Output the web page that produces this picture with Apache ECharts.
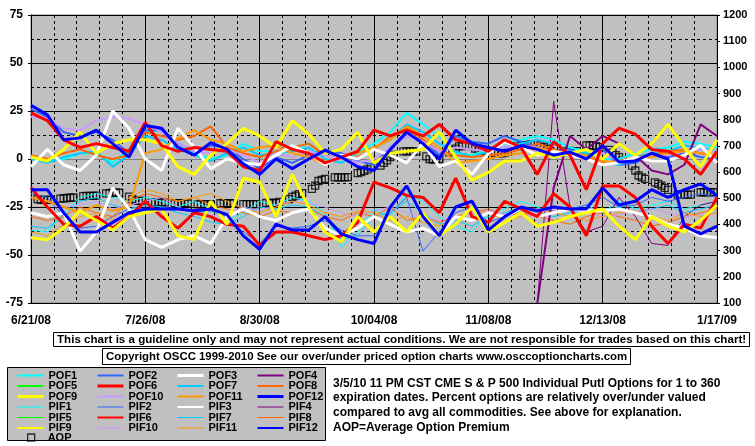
<!DOCTYPE html>
<html><head><meta charset="utf-8">
<script src="https://cdn.jsdelivr.net/npm/echarts@6/dist/echarts.min.js"></script>
<style>html,body{margin:0;padding:0;background:#fff}#c{width:755px;height:446px}</style>
</head><body><div id="c"></div>
<script>
// x-axis tick labels (every 35 days from 6/21/08)
const tickLabels = ['6/21/08','7/26/08','8/30/08','10/04/08','11/08/08','12/13/08','1/17/09'];
// sample days (days since 6/21/08)
const days = [0,5,10,15,20,25,30,35,40,45,50,55,60,65,70,75,80,85,90,95,100,105,110,115,120,125,130,135,140,145,150,155,160,165,170,175,180,185,190,195,200,205,210];
const N = null;
const POF1 = [0,-1,0,3,3,-2,5,14,15,8,3,0,2,8,4,4,5,8,2,0,4,8,14,24,18,12,3,2,5,8,10,12,10,6,4,0,0,3,5,6,9,8,6];
const POF2 = [26,22,14,12,14,10,3,15,15,8,4,7,6,0,-5,1,-2,2,5,3,-1,-3,6,12,10,2,12,9,8,12,9,6,4,5,2,5,-3,-2,2,1,3,1,0];
const POF3 = [-4,5,-3,-6,2,25,16,0,-6,16,6,-5,0,-2,-3,2,7,3,-3,2,0,5,2,-2,8,-4,-1,-8,3,9,6,2,4,2,0,-3,-2,1,-1,-1,2,7,-2];
const POF4 = [N,N,N,N,N,N,N,N,N,N,N,N,N,N,N,N,N,N,N,N,N,N,N,N,N,N,N,N,N,N,N,-75,-15,12,5,12,8,2,-6,-8,-3,18,12];
const POF5 = [N,N,N,N,N,N,N,N,N,N,N,N,N,N,N,N,N,N,N,N,N,N,N,N,N,N,N,N,N,N,N,N,N,N,N,N,N,N,N,N,N,N,N];
const POF6 = [24,20,10,6,8,6,4,19,7,4,6,5,4,-4,-6,9,5,3,-2,1,4,15,12,15,12,18,10,8,4,10,6,-8,9,2,-16,8,16,13,5,4,0,-8,4];
const POF7 = [0,-2,1,3,4,-4,2,12,10,5,2,-1,3,6,2,3,4,6,0,-2,3,6,10,18,14,8,4,1,4,6,8,10,8,4,3,-2,-3,1,3,4,7,6,4];
const POF8 = [2,0,3,5,2,0,2,14,12,10,12,17,6,3,1,4,6,8,2,0,1,5,12,16,10,4,2,1,2,3,5,8,5,2,1,-2,-1,1,2,4,5,3,1];
const POF9 = [1,-1,5,14,3,8,10,10,8,-4,-8,2,8,16,12,6,20,13,3,5,14,-2,3,4,5,14,1,-11,-7,-1,-1,3,1,3,5,0,8,2,8,18,6,-4,10];
const POF10 = [22,21,16,15,20,22,21,18,14,8,4,3,5,2,-2,3,1,4,2,0,-2,0,6,12,9,4,6,5,4,6,7,6,3,4,1,3,-1,0,2,2,4,5,4];
const POF11 = [-20,-22,-25,-28,-24,-27,-25,3,5,11,15,10,8,4,6,7,3,1,-3,2,3,6,10,17,12,6,-2,-1,0,2,3,6,4,3,2,-1,-2,0,1,3,4,3,2];
const POF12 = [28,23,10,11,15,8,1,17.5,16,6,2,8.5,5,-2.5,-8,0,-5,0,4.5,1,-4,-6,5,14,8,0,15,8,6,4,7,5,2,3.6,0,7,-1.5,-1,3,0,-35,-39,-35];
const PIF1 = [-37,-38,-28,-20,-18,-20,-22,-20,-22,-25,-22,-26,-32,-28,-22,-24,-20,-22,-28,-46,-38,-26,-30,-18,-22,-30,-35,-38,-28,-26,-22,-25,-28,-26,-24,-28,-22,-26,-24,-22,-26,-24,-22];
const PIF2 = [-18,-20,-30,-36,-35,-30,-26,-24,-25,-26,-28,-27,-30,-38,-44,-35,-36,-35,-32,-37,-40,-40,-28,-20,-48,-38,-28,-25,-33,-30,-27,-26,-27,-26,-24,-20,-25,-24,-20,-22,-20,-18,-20];
const PIF3 = [-28,-30,-28,-48,-38,-15,-26,-42,-46,-42,-40,-44,-30,-26,-30,-32,-28,-26,-36,-40,-36,-30,-34,-38,-36,-40,-30,-32,-28,-30,-26,-30,-28,-26,-27,-27,-26,-28,-30,-34,-36,-40,-41];
const PIF4 = [N,N,N,N,N,N,N,N,N,N,N,N,N,N,N,N,N,N,N,N,N,N,N,N,N,N,N,N,N,N,N,-75,30,-25,-38,-35,-20,-30,-44,-45,-30,-24,-22];
const PIF5 = [N,N,N,N,N,N,N,N,N,N,N,N,N,N,N,N,N,N,N,N,N,N,N,N,N,N,N,N,N,N,N,N,N,N,N,N,N,N,N,N,N,N,N];
const PIF6 = [-15,-25,-34,-35,-30,-36,-30,-22,-30,-36,-28,-30,-34,-35,-45,-38,-38,-40,-42,-40,-33,-12,-15,-19,-20,-28,-10,-30,-33,-22,-26,-30,-18,-25,-40,-14,-14,-20,-35,-44,-34,-36,-20];
const PIF7 = [-35,-36,-30,-22,-20,-24,-26,-24,-25,-28,-30,-33,-34,-30,-25,-26,-24,-25,-30,-42,-40,-30,-28,-22,-28,-34,-32,-35,-30,-28,-25,-28,-30,-28,-26,-27,-25,-28,-26,-24,-28,-26,-24];
const PIF8 = [-30,-32,-30,-25,-28,-30,-22,-18,-20,-22,-20,-24,-26,-28,-30,-27,-28,-26,-30,-32,-28,-30,-25,-32,-30,-33,-30,-28,-26,-30,-28,-30,-32,-34,-30,-28,-30,-32,-35,-33,-30,-28,-26];
const PIF9 = [-41,-42,-36,-27,-32,-37,-30,-28,-26,-40,-42,-22,-34,-10,-12,-30,-8,-25,-38,-43,-30,-38,-30,-38,-28,-40,-34,-25,-38,-33,-28,-35,-33,-30,-28,-26,-35,-42,-30,-35,-38,-32,-24];
const PIF10 = [-20,-22,-25,-24,-22,-26,-24,-22,-20,-25,-28,-30,-28,-25,-27,-24,-22,-23,-25,-28,-30,-27,-25,-28,-30,-32,-30,-28,-27,-29,-30,-28,-27,-26,-28,-30,-29,-27,-26,-28,-30,-29,-28];
const PIF11 = [-38,-40,-34,-30,-28,-32,-20,-16,-18,-22,-20,-18,-22,-26,-28,-25,-22,-24,-28,-30,-27,-28,-32,-30,-33,-35,-30,-27,-28,-32,-30,-26,-28,-30,-32,-30,-28,-27,-30,-32,-28,-30,-28];
const PIF12 = [-16,-16,-28,-38,-38,-33,-28,-26,-26,-26,-27,-26,-29,-40,-47,-34,-37,-37,-30,-39,-42,-44,-25,-14,-30,-40,-25,-22,-37,-30,-25,-27,-25,-26,-26,-15,-24,-22,-16,-20,-16,-13,-19];
// Average option premium, one value per trading day (right axis)
const AOP = [
497,494,494,494,494, 499,500,501,502,503, 508,509,509,509,510, 519,520,521,521,521,
506,497,491,490,490, 484,484,484,484,484, 481,481,481,481,480, 477,477,478,478,478,
481,481,481,481,481, 478,478,478,478,478, 482,482,482,482,486, 497,505,510,516,520,
536,548,566,570,574, 580,580,580,580,581, 596,600,605,610,619, 625,635,645,657,666,
679,679,680,679,678, 660,650,648,650,650, 675,683,690,698,699, 699,690,683,683,680,
672,672,672,674,680, 702,702,703,703,706, 702,695,689,680,672, 680,680,681,680,680,
702,702,702,699,695, 685,674,665,657,644, 625,606,587,580,574, 561,555,548,540,532,
514,514,514,514,514, 523,523,524,523,523];
const descLines = [
'3/5/10 11 PM CST CME S & P 500 Individual Putl Options for 1 to 360',
'expiration dates. Percent options are relatively over/under valued',
'compared to avg all commodities. See above for explanation.',
'AOP=Average Option Premium'];

// trading days (Mon-Fri) of the calendar; 6/21/08 was a Saturday
const tradingDays = [];
for (let d = 0; d <= 210; d++) { const dow = (6 + d) % 7; if (dow >= 1 && dow <= 5) tradingDays.push(d); }

const defs = [
  ['PIF1','#00FFFF',1,1,PIF1],['PIF2','#3366FF',1,1,PIF2],['PIF4','#800080',1,1,PIF4],['PIF5','#00FF00',1,1,PIF5],
  ['PIF7','#00CCFF',1,1,PIF7],['PIF8','#FF6600',1,1,PIF8],['PIF10','#CC99FF',1,1,PIF10],['PIF11','#FF9900',1,1,PIF11],
  ['POF1','#00FFFF',2,2,POF1],['POF2','#3366FF',2,2,POF2],['POF5','#00FF00',2,2,POF5],['POF7','#00CCFF',2,2,POF7],
  ['POF8','#FF6600',2,2,POF8],['POF10','#CC99FF',2,2,POF10],['POF11','#FF9900',2,2,POF11],['POF4','#800080',2,2,POF4],
  ['PIF3','#FFFFFF',3,2,PIF3],['PIF6','#FF0000',3,2,PIF6],['PIF9','#FFFF00',3,2,PIF9],['PIF12','#0000FF',3,2,PIF12],
  ['POF3','#FFFFFF',3,3,POF3],['POF9','#FFFF00',3,3,POF9],['POF6','#FF0000',3,3,POF6],['POF12','#0000FF',3,3,POF12]
];
const legendW = {}; defs.forEach(d => legendW[d[0]] = d[3]);

const series = defs.map(d => ({
  name: d[0], type: 'line', xAxisIndex: 0, yAxisIndex: 0, symbol: 'none', showSymbol: false,
  color: d[1], lineStyle: { color: d[1], width: d[2] }, data: days.map((x, i) => [x, d[4][i]]),
  connectNulls: false, animation: false, silent: true
}));
series.push({
  name: 'AOP', type: 'scatter', yAxisIndex: 1, symbol: 'rect', symbolSize: 7,
  itemStyle: { color: 'rgba(0,0,0,0)', borderColor: '#000', borderWidth: 1.3 },
  data: tradingDays.map((x, i) => [x, AOP[i]]), animation: false, silent: true
});

const cols = [
  ['POF1','POF5','POF9','PIF1','PIF5','PIF9'],
  ['POF2','POF6','POF10','PIF2','PIF6','PIF10'],
  ['POF3','POF7','POF11','PIF3','PIF7','PIF11'],
  ['POF4','POF8','POF12','PIF4','PIF8','PIF12']
];
const colLeft = [16, 96, 176, 256];
const lblFont = { fontFamily: 'Liberation Sans, Arial, sans-serif', fontWeight: 'bold', fontSize: 11, color: '#000' };
const legends = cols.map((c, k) => ({
  orient: 'vertical', left: colLeft[k], top: 370, padding: 0, itemGap: -0.5,
  itemWidth: 26, itemHeight: 10, selectedMode: false,
  textStyle: Object.assign({ lineHeight: 10 }, lblFont),
  data: c.map(n => ({ name: n, lineStyle: { width: legendW[n] }, itemStyle: { opacity: 0 } }))
}));
legends.push({
  orient: 'vertical', left: 27, top: 432, padding: 0, itemWidth: 7, itemHeight: 7, selectedMode: false,
  textStyle: Object.assign({ lineHeight: 10, padding: [0, 0, 0, 8] }, lblFont),
  data: [{ name: 'AOP', icon: 'rect', itemStyle: { color: 'rgba(0,0,0,0)', borderColor: '#000', borderWidth: 1.3 } }]
});

const titleFont = Object.assign({}, lblFont, { fontSize: 11.6, lineHeight: 13 });
const chart = echarts.init(document.getElementById('c'), null, { renderer: 'canvas' });
chart.setOption({
  animation: false,
  backgroundColor: '#fff',
  title: [
    { text: 'This chart is a guideline only and may not represent actual conditions. We are not responsible for trades based on this chart!',
      left: 53, top: 332, padding: [1, 4, 1, 4], borderWidth: 1, borderColor: '#000', textStyle: titleFont },
    { text: 'Copyright OSCC 1999-2010 See our over/under priced option charts www.osccoptioncharts.com',
      left: 102, top: 348, padding: [2, 4, 2, 4], borderWidth: 1, borderColor: '#000',
      textStyle: Object.assign({}, titleFont, { fontSize: 11.4 }) },
    { text: descLines.join('\n'), left: 333, top: 376, padding: 0,
      textStyle: Object.assign({}, lblFont, { fontSize: 12, lineHeight: 14.7 }) }
  ],
  graphic: [{ type: 'rect', z: -1, shape: { x: 7.5, y: 367.5, width: 318, height: 73 },
    style: { fill: '#C0C0C0', stroke: '#000', lineWidth: 1 } }],
  legend: legends,
  grid: { left: 31, top: 15, width: 686, height: 288, show: true, backgroundColor: '#C0C0C0', borderColor: '#808080', borderWidth: 1 },
  xAxis: {
    type: 'value', min: 0, max: 210, interval: 35,
    axisLine: { show: true, lineStyle: { color: '#808080', width: 1 } },
    axisTick: { show: false },
    axisLabel: { margin: 12, fontFamily: 'Liberation Sans Narrow, Liberation Sans, Arial', fontWeight: 'bold', fontSize: 12, color: '#000',
      formatter: v => tickLabels[Math.round(v / 35)] },
    splitLine: { show: true, lineStyle: { color: '#000', width: 1 } },
    minorTick: { show: false, splitNumber: 5 },
    minorSplitLine: { show: true, lineStyle: { color: '#000', width: 1, type: [3, 3] } }
  },
  yAxis: [
    { type: 'value', min: -75, max: 75, interval: 25, position: 'left',
      axisLine: { show: true, lineStyle: { color: '#000', width: 1 } },
      axisTick: { show: true, length: 3, inside: false, lineStyle: { color: '#000' } },
      axisLabel: { margin: 8, fontFamily: 'Liberation Sans Narrow, Liberation Sans, Arial', fontWeight: 'bold', fontSize: 12, color: '#000' },
      splitLine: { show: true, lineStyle: { color: '#000', width: 1 } },
      minorTick: { show: false, splitNumber: 2 },
      minorSplitLine: { show: true, lineStyle: { color: '#000', width: 1, type: [3, 3] } } },
    { type: 'value', min: 100, max: 1200, interval: 100, position: 'right',
      axisLine: { show: true, lineStyle: { color: '#000', width: 1 } },
      axisTick: { show: true, length: 3, inside: false, lineStyle: { color: '#000' } },
      axisLabel: Object.assign({ margin: 6, formatter: v => String(v) }, lblFont),
      splitLine: { show: false } }
  ],
  series: series
});
</script></body></html>
